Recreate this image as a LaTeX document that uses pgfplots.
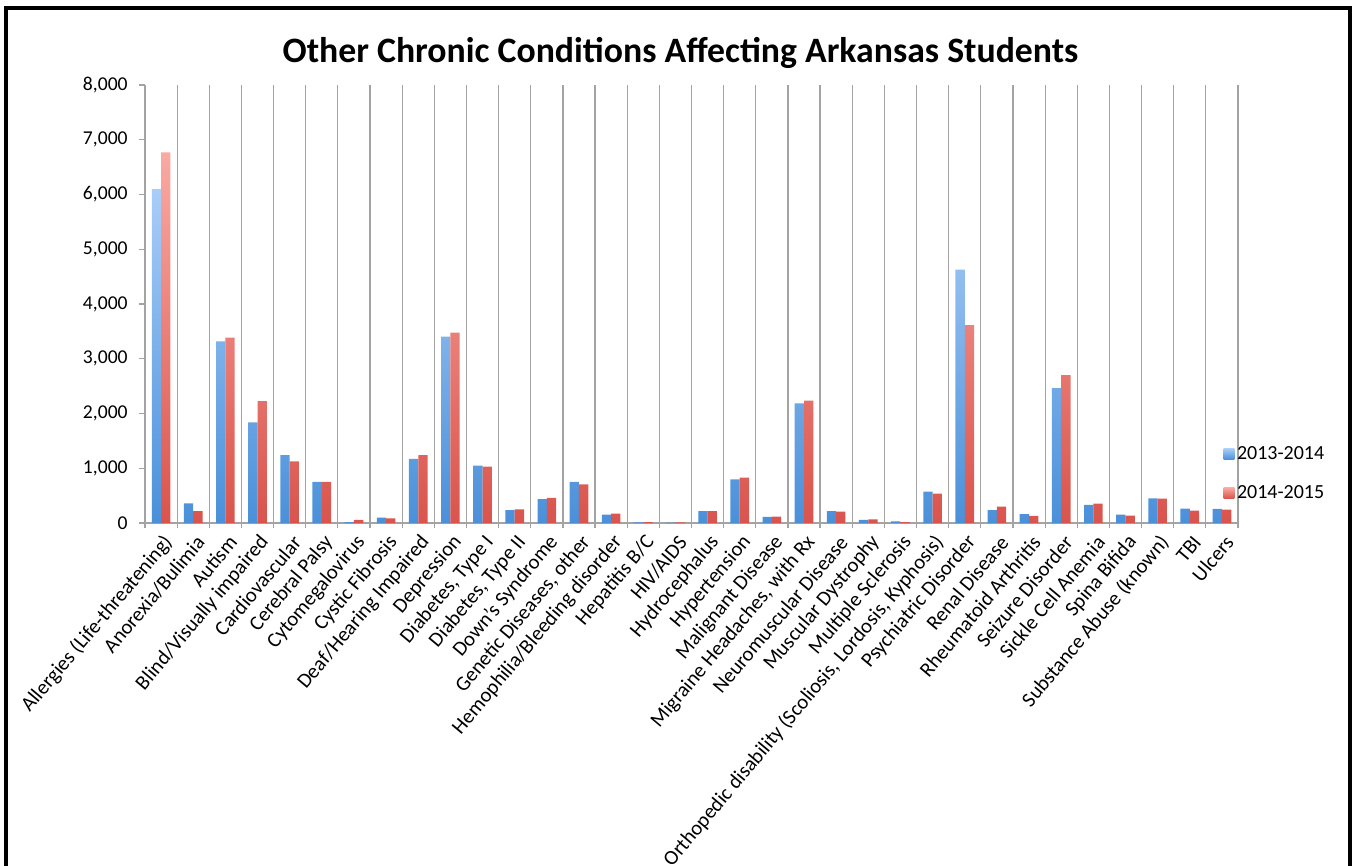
\documentclass[border=0pt]{standalone}
\usepackage{pgfplots}
\pgfplotsset{compat=1.18}
\usepackage{pgfplotstable}
\usepackage{fontspec}
\setmainfont{Carlito}
\definecolor{bluetop}{HTML}{A9CDF8}
\definecolor{bluebot}{HTML}{4A90D9}
\definecolor{redtop}{HTML}{FAA9A3}
\definecolor{redbot}{HTML}{D9544C}
\definecolor{gridgray}{HTML}{A3A3A3}

\pgfplotstableread{
idx y1 y2
0 6100 6770
1 360 215
2 3318 3384
3 1840 2228
4 1242 1125
5 750 750
6 18 55
7 97 86
8 1170 1242
9 3403 3476
10 1046 1028
11 237 250
12 438 457
13 749 706
14 152 170
15 12 18
16 6 12
17 219 219
18 795 830
19 110 116
20 2186 2234
21 219 207
22 58 67
23 30 18
24 572 535
25 4630 3616
26 237 298
27 164 128
28 2465 2703
29 329 353
30 152 134
31 450 444
32 262 225
33 256 243
}\datatable

\begin{document}
\begin{tikzpicture}
\useasboundingbox (0,0) rectangle (1017.75pt,648.75pt);
\draw[line width=2.4pt] (4.5pt,-2pt) -- (4.5pt,{(865-8)*0.75pt}) -- ({1350*0.75pt},{(865-8)*0.75pt}) -- ({1350*0.75pt},-2pt);
\node[font=\bfseries\fontsize{26.8}{30}\selectfont] at ({680.5*0.75pt},{(865-53)*0.75pt}) {Other Chronic Conditions Affecting Arkansas Students};
\begin{axis}[
  at={(108.75pt,256.5pt)}, anchor=south west,
  scale only axis, width=819.75pt, height=328.5pt,
  xmin=-0.5, xmax=33.5, ymin=0, ymax=8000,
  ybar=0pt, bar width=0.29,
  axis lines*=left,
  axis line style={gridgray, line width=0.9pt},
  tick align=outside,
  xtick={0,...,33},
  major x tick style={draw=none},
  minor xtick={-0.5,0.5,...,33.5},
  minor tick length=4pt,
  minor x tick style={gridgray, line width=0.9pt},
  xminorgrids,
  minor x grid style={gridgray, line width=0.9pt},
  ytick={0,1000,...,8000},
  major tick length=4.5pt,
  ytick style={gridgray, line width=0.9pt},
  scaled y ticks=false,
  /pgf/number format/.cd, 1000 sep={,}, assume math mode=true,
  /pgfplots/.cd,
  yticklabel style={font=\fontsize{14.7}{17}\selectfont, text=black, xshift=-5pt},
  xticklabel style={rotate=50, anchor=east, font=\fontsize{15.5}{18}\selectfont, text=black, xshift=1.5pt, yshift=-9pt},
  xticklabels={Allergies (Life-threatening), Anorexia/Bulimia, Autism, Blind/Visually impaired, Cardiovascular, Cerebral Palsy, Cytomegalovirus, Cystic Fibrosis, Deaf/Hearing Impaired, Depression, {Diabetes, Type I}, {Diabetes, Type II}, Down’s Syndrome, {Genetic Diseases, other}, Hemophilia/Bleeding disorder, Hepatitis B/C, HIV/AIDS, Hydrocephalus, Hypertension, Malignant Disease, {Migraine Headaches, with Rx}, Neuromuscular Disease, Muscular Dystrophy, Multiple Sclerosis, {Orthopedic disability (Scoliosis, Lordosis, Kyphosis)}, Psychiatric Disorder, Renal Disease, Rheumatoid Arthritis, Seizure Disorder, Sickle Cell Anemia, Spina Bifida, Substance Abuse (known), TBI, Ulcers},
  legend style={at={(0.983,0.113)}, anchor=west, draw=none, fill=none, font=\fontsize{15}{17}\selectfont, row sep=14pt},
  legend cell align=left,
]
\addplot[draw=none, top color=bluetop, bottom color=bluebot,
  legend image code/.code={\path[top color=bluetop, bottom color=bluebot] (0pt,-4pt) rectangle (8pt,4pt);}]
  table[x=idx, y=y1] {\datatable};
\addplot[draw=none, top color=redtop, bottom color=redbot,
  legend image code/.code={\path[top color=redtop, bottom color=redbot] (0pt,-4pt) rectangle (8pt,4pt);}]
  table[x=idx, y=y2] {\datatable};
\legend{2013-2014, 2014-2015}
\end{axis}
\end{tikzpicture}
\end{document}
